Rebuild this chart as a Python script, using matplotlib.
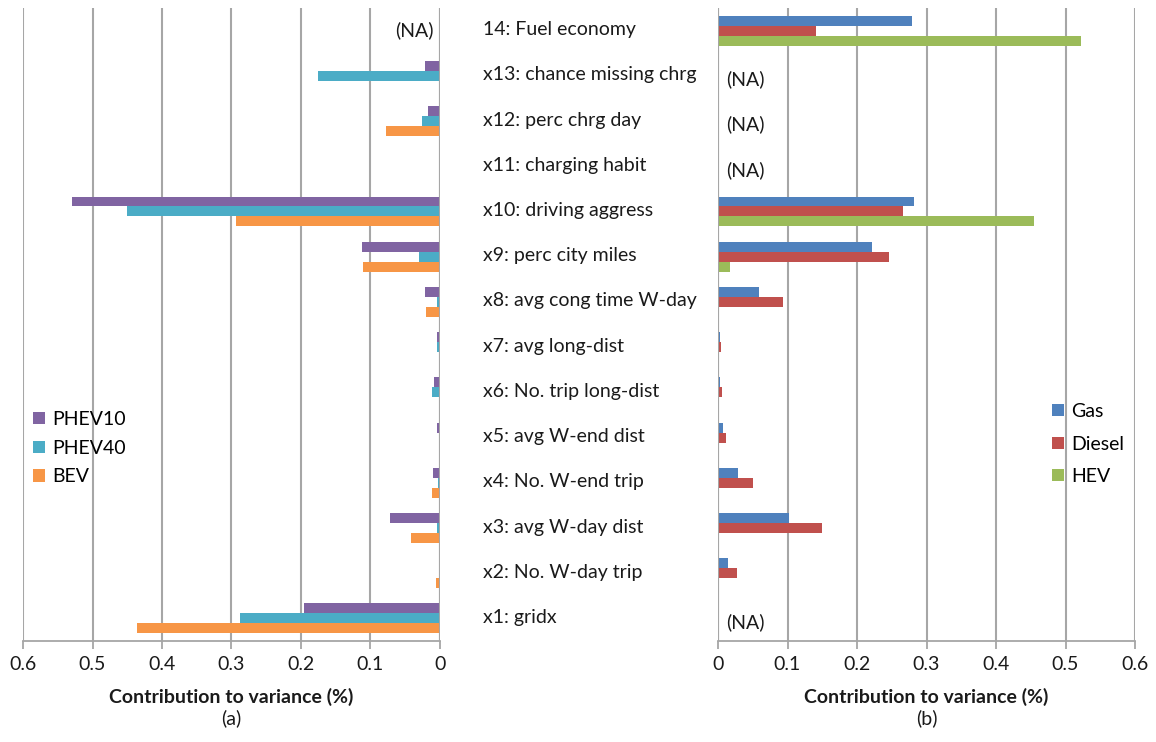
import numpy as np
import matplotlib
matplotlib.use('Agg')
import matplotlib.pyplot as plt
import matplotlib.transforms as mtransforms

plt.rcParams['font.family'] = ['Lato', 'DejaVu Sans']

# Variables, listed top to bottom
labels = ['14: Fuel economy', 'x13: chance missing chrg', 'x12: perc chrg day',
          'x11: charging habit', 'x10: driving aggress', 'x9: perc city miles',
          'x8: avg cong time W-day', 'x7: avg long-dist', 'x6: No. trip long-dist',
          'x5: avg W-end dist', 'x4: No. W-end trip', 'x3: avg W-day dist',
          'x2: No. W-day trip', 'x1: gridx']

# (a) plug-in vehicles (None = not applicable)
phev10 = [None, 0.022, 0.017, 0.001, 0.530, 0.112, 0.022, 0.004, 0.009, 0.004, 0.010, 0.072, 0.002, 0.196]
phev40 = [None, 0.175, 0.026, 0.000, 0.450, 0.030, 0.004, 0.005, 0.012, 0.000, 0.003, 0.005, 0.000, 0.288]
bev = [None, 0.000, 0.078, 0.000, 0.293, 0.111, 0.020, 0.001, 0.001, 0.001, 0.012, 0.042, 0.006, 0.436]

# (b) conventional / hybrid vehicles
gas = [0.279, None, None, None, 0.282, 0.222, 0.059, 0.003, 0.003, 0.007, 0.029, 0.102, 0.015, None]
diesel = [0.141, None, None, None, 0.266, 0.246, 0.094, 0.005, 0.006, 0.012, 0.050, 0.149, 0.028, None]
hev = [0.522, None, None, None, 0.455, 0.017, 0.002, 0.000, 0.000, 0.000, 0.000, 0.002, 0.000, None]

ticks = [0, 0.1, 0.2, 0.3, 0.4, 0.5, 0.6]
tick_labels = ['0', '0.1', '0.2', '0.3', '0.4', '0.5', '0.6']

n = len(labels)
ypos = np.arange(n)[::-1]  # first label at the top
bh = 0.22
grid_c = '#a6a6a6'
txt_c = '#1a1a1a'
fs = 14

fig = plt.figure(figsize=(11.56, 7.42), dpi=100)
axL = fig.add_axes([23 / 1156, 1 - 641 / 742, 417 / 1156, 633 / 742])
axR = fig.add_axes([718 / 1156, 1 - 641 / 742, 417 / 1156, 633 / 742])


def vals(seq):
    return np.array([0 if v is None else v for v in seq])


def style(ax):
    ax.set_xlim(0, 0.6)
    ax.set_ylim(-0.5, n - 0.5)
    ax.set_xticks(ticks)
    ax.set_xticklabels(tick_labels, fontsize=fs, color=txt_c)
    ax.set_yticks([])
    ax.xaxis.grid(True, color=grid_c, linewidth=1.5)
    ax.set_axisbelow(True)
    for s in ['top', 'left', 'right']:
        ax.spines[s].set_visible(False)
    ax.spines['bottom'].set_color(grid_c)
    ax.spines['bottom'].set_linewidth(1.3)
    ax.tick_params(axis='x', direction='out', length=6, width=1.3, color=grid_c, pad=5)
    ax.set_xlabel('Contribution to variance (%)', fontsize=fs, fontweight='bold',
                  color=txt_c, va='center')
    ax.xaxis.set_label_coords(0.5, -56 / 633)


def legend(ax, x, y, spacing):
    ax.legend(loc='upper left', bbox_to_anchor=(x, y), frameon=False, fontsize=fs,
              handlelength=0.6, handleheight=0.6, handletextpad=0.4,
              labelspacing=spacing, borderaxespad=0, borderpad=0)


# left panel, reversed axis
axL.barh(ypos + bh, vals(phev10), height=bh, color='#8064A2', label='PHEV10')
axL.barh(ypos, vals(phev40), height=bh, color='#4BACC6', label='PHEV40')
axL.barh(ypos - bh, vals(bev), height=bh, color='#F79646', label='BEV')
style(axL)
axL.invert_xaxis()
axL.axvline(0, color=grid_c, linewidth=1.5)
for y, v in zip(ypos, phev10):
    if v is None:
        axL.text(0.009, y, '(NA)', ha='right', va='center', fontsize=fs, color=txt_c)
legend(axL, 10 / 417, 230 / 633, 0.6)

# right panel
axR.barh(ypos + bh, vals(gas), height=bh, color='#4F81BD', label='Gas')
axR.barh(ypos, vals(diesel), height=bh, color='#C0504D', label='Diesel')
axR.barh(ypos - bh, vals(hev), height=bh, color='#9BBB59', label='HEV')
style(axR)
axR.axvline(0, color=grid_c, linewidth=1.5)
for y, v in zip(ypos, gas):
    if v is None:
        axR.text(0.012, y - 0.08, '(NA)', ha='left', va='center', fontsize=fs, color=txt_c)
legend(axR, 334 / 417, 238 / 633, 0.8)

# variable names between the panels
trans = mtransforms.blended_transform_factory(fig.transFigure, axR.transData)
for y, lab in zip(ypos, labels):
    fig.text(483 / 1156, y + 0.02, lab, transform=trans, ha='left', va='center',
             fontsize=fs, color=txt_c)

fig.text((23 + 440) / 2 / 1156, 1 - 718 / 742, '(a)', ha='center', va='center', fontsize=fs, color=txt_c)
fig.text((718 + 1135) / 2 / 1156, 1 - 718 / 742, '(b)', ha='center', va='center', fontsize=fs, color=txt_c)

fig.savefig('out.png', dpi=100)
